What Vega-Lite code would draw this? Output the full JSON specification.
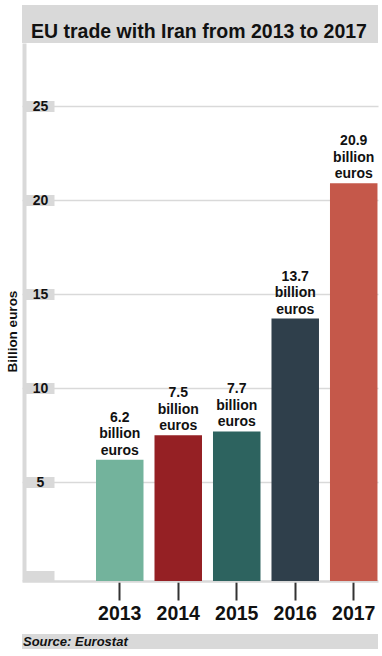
{
  "$schema": "https://vega.github.io/schema/vega-lite/v6.json",
  "padding": {"left": 5, "top": 5, "right": 2, "bottom": 7},
  "spacing": 0,
  "bounds": "flush",
  "config": {"view": {"stroke": null}},
  "vconcat": [
    {
      "width": 356,
      "height": 38,
      "view": {"fill": "#d9d9d9", "stroke": null},
      "data": {"values": [{"t": "EU trade with Iran from 2013 to 2017"}]},
      "mark": {"type": "text", "align": "left", "baseline": "alphabetic", "dx": 9, "dy": 14, "font": "Liberation Sans", "fontWeight": "bold", "fontSize": 19.5, "color": "#111111"},
      "encoding": {
        "x": {"datum": 0, "type": "quantitative", "scale": {"domain": [0, 1]}, "axis": null},
        "text": {"field": "t"}
      }
    },
    {
      "width": 356,
      "height": 538,
      "data": {
        "values": [
          {"year": "2013", "value": 6.2, "label": "6.2\nbillion\neuros"},
          {"year": "2014", "value": 7.5, "label": "7.5\nbillion\neuros"},
          {"year": "2015", "value": 7.7, "label": "7.7\nbillion\neuros"},
          {"year": "2016", "value": 13.7, "label": "13.7\nbillion\neuros"},
          {"year": "2017", "value": 20.9, "label": "20.9\nbillion\neuros"}
        ]
      },
      "encoding": {
        "x": {
          "field": "year",
          "type": "nominal",
          "scale": {"type": "band", "paddingInner": 0.188, "paddingOuter": 0.637, "align": 0.993},
          "axis": {
            "title": null,
            "labelAngle": 0,
            "grid": false,
            "domainColor": "#d9d9d9",
            "domainWidth": 2.5,
            "tickColor": "#333333",
            "tickWidth": 2,
            "tickSize": 19,
            "labelPadding": 4,
            "labelFont": "Liberation Sans",
            "labelFontWeight": "bold",
            "labelFontSize": 19.5,
            "labelColor": "#111111"
          }
        }
      },
      "layer": [
        {
          "mark": {"type": "bar"},
          "encoding": {
            "y": {
              "field": "value",
              "type": "quantitative",
              "scale": {"domain": [-0.25, 28.35], "nice": false, "zero": false},
              "axis": {
                "title": "Billion euros",
                "values": [0, 5, 10, 15, 20, 25],
                "offset": -2,
                "domainColor": "#d9d9d9",
                "domainWidth": 4,
                "tickColor": "#d9d9d9",
                "tickWidth": 11,
                "tickSize": -30,
                "labelPadding": 14,
                "labelAlign": "center",
                "labelBaseline": "middle",
                "labelFont": "Liberation Sans",
                "labelFontWeight": "bold",
                "labelFontSize": 14,
                "labelColor": "#111111",
                "labelExpr": "datum.value === 0 ? '' : datum.label",
                "grid": true,
                "gridColor": "#d9d9d9",
                "gridWidth": 1.5,
                "gridOpacity": {"condition": {"test": "datum.value === 0", "value": 0}, "value": 1},
                "titleFont": "Liberation Sans",
                "titleFontWeight": "bold",
                "titleFontSize": 13.5,
                "titleColor": "#111111",
                "titleAngle": 270,
                "titleBaseline": "alphabetic",
                "titleAlign": "center",
                "titleX": -8,
                "titleY": 288
              }
            },
            "y2": {"datum": -0.25},
            "color": {
              "field": "year",
              "type": "nominal",
              "scale": {"domain": ["2013", "2014", "2015", "2016", "2017"], "range": ["#73b39c", "#952024", "#2d635f", "#2f3f4b", "#c5584a"]},
              "legend": null
            }
          }
        },
        {
          "mark": {"type": "text", "lineBreak": "\n", "baseline": "alphabetic", "align": "center", "dy": -38, "lineHeight": 16.5, "font": "Liberation Sans", "fontWeight": "bold", "fontSize": 14, "color": "#111111"},
          "encoding": {
            "y": {"field": "value", "type": "quantitative"},
            "text": {"field": "label"}
          }
        }
      ]
    },
    {
      "width": 356,
      "height": 53,
      "data": {"values": [{"t": ""}]},
      "mark": {"type": "text"},
      "encoding": {"text": {"field": "t"}}
    },
    {
      "width": 356,
      "height": 15,
      "view": {"fill": "#d9d9d9", "stroke": null},
      "data": {"values": [{"t": "Source: Eurostat"}]},
      "mark": {"type": "text", "align": "left", "baseline": "alphabetic", "dx": 1, "dy": 4.5, "font": "Liberation Sans", "fontWeight": "bold", "fontStyle": "italic", "fontSize": 13, "color": "#111111"},
      "encoding": {
        "x": {"datum": 0, "type": "quantitative", "scale": {"domain": [0, 1]}, "axis": null},
        "text": {"field": "t"}
      }
    }
  ]
}
